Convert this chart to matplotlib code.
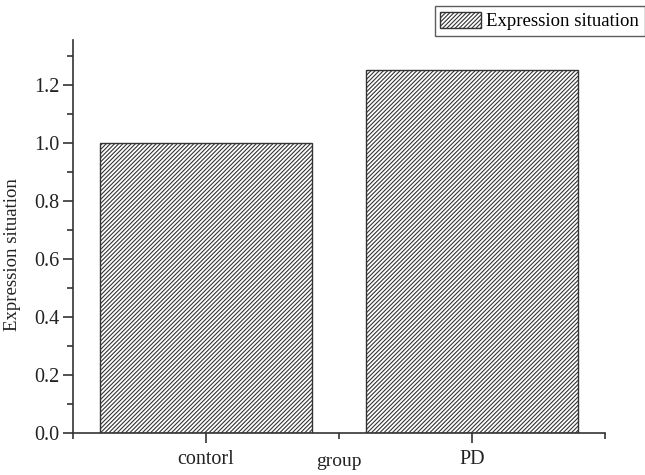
import matplotlib
matplotlib.use("Agg")
import matplotlib.pyplot as plt
from matplotlib.ticker import MultipleLocator, FixedLocator, FormatStrFormatter

categories = ["contorl", "PD"]
values = [1.0, 1.25]
series_name = "Expression situation"
x_title = "group"

plt.rcParams['font.family'] = ['Liberation Serif', 'DejaVu Serif']
plt.rcParams['font.size'] = 13.5
plt.rcParams['hatch.linewidth'] = 0.8
plt.rcParams['hatch.color'] = '#333333'

fig = plt.figure(figsize=(6.45, 4.75), dpi=100)
ax = fig.add_axes([73/645, 42/475, 532/645, 393/475])

x = list(range(len(categories)))
bars = ax.bar(x, values, width=0.8, color='white', edgecolor='#333333',
              linewidth=1.0, hatch='////////', label=series_name)

ax.set_xlim(-0.5, 1.5)
ax.set_ylim(0, 1.355)
ax.set_xticks(x)
ax.set_xticklabels(categories)
ax.xaxis.set_minor_locator(FixedLocator([-0.5, 0.5, 1.5]))
ax.yaxis.set_major_locator(MultipleLocator(0.2))
ax.yaxis.set_minor_locator(MultipleLocator(0.1))
ax.yaxis.set_major_formatter(FormatStrFormatter('%.1f'))

for s in ['top', 'right']:
    ax.spines[s].set_visible(False)
for s in ['left', 'bottom']:
    ax.spines[s].set_color('#333333')
    ax.spines[s].set_linewidth(1.2)

ax.tick_params(axis='both', which='major', direction='out', length=7, width=1.2,
               colors='#333333', labelcolor='#222222', labelsize=14.5, pad=3)
ax.tick_params(axis='both', which='minor', direction='out', length=4, width=1.2,
               colors='#333333')
ax.tick_params(axis='x', which='major', pad=5)

ax.set_ylabel(series_name, color='#222222', fontsize=13.5)
ax.yaxis.set_label_coords(-0.097, 0.453)
ax.set_xlabel(x_title, color='#222222', fontsize=14)
ax.xaxis.set_label_coords(0.5, -0.052)

leg = fig.legend(handles=[bars], labels=[series_name], loc='upper right',
                 bbox_to_anchor=(645/645, 1 - 6/475), frameon=True, fancybox=False,
                 edgecolor='#333333', borderpad=0.3, handlelength=2.2, handleheight=0.95,
                 handletextpad=0.27, borderaxespad=0, fontsize=13.5)
leg.get_frame().set_linewidth(1.0)

fig.savefig("out.png", dpi=100)
